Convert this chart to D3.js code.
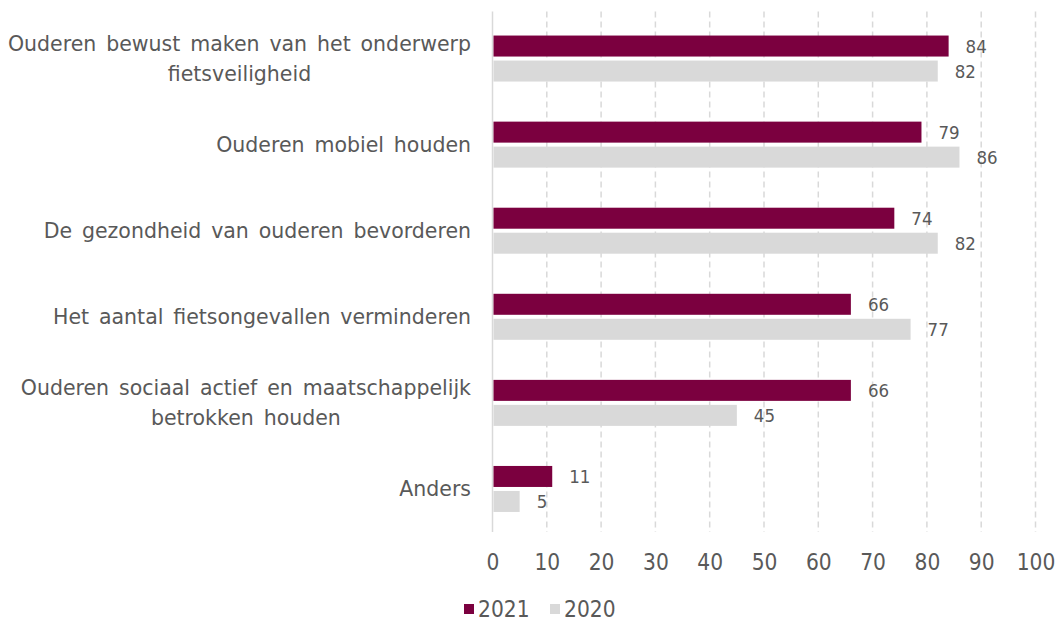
<!DOCTYPE html>
<html>
<head>
<meta charset="utf-8">
<script src="https://cdn.jsdelivr.net/npm/d3@7"></script>
<style>
  body { margin: 0; background: #fff; }
  text { font-family: "DejaVu Sans Condensed", "DejaVu Sans", sans-serif; font-stretch: condensed; fill: #595959; }
  text.cat { font-family: "DejaVu Sans", sans-serif; font-stretch: normal; word-spacing: 3.4px; }
</style>
</head>
<body>
<svg id="chart" width="1057" height="624"></svg>
<script>
// categories (each entry = wrapped label lines)
var categories = [
  ["Ouderen bewust maken van het onderwerp", "fietsveiligheid"],
  ["Ouderen mobiel houden"],
  ["De gezondheid van ouderen bevorderen"],
  ["Het aantal fietsongevallen verminderen"],
  ["Ouderen sociaal actief en maatschappelijk", "betrokken houden"],
  ["Anders"]
];
var values2021 = [84, 79, 74, 66, 66, 11];
var values2020 = [82, 86, 82, 77, 45, 5];
var seriesNames = ["2021", "2020"];
var seriesColors = ["#7b003f", "#d9d9d9"];
var xTicks = [0, 10, 20, 30, 40, 50, 60, 70, 80, 90, 100];

var svg = d3.select("#chart");
var plotLeft = 492.5, plotRight = 1035.5, plotTop = 15.5, plotBottom = 532;

var x = d3.scaleLinear().domain([0, 100]).range([plotLeft, plotRight]);
var y = d3.scaleBand().domain(d3.range(categories.length)).range([plotTop, plotBottom]);
var bw = y.bandwidth();
var barH = 21, gap = 4;

// gridlines
svg.append("g").selectAll("line").data(xTicks.slice(1)).enter().append("line")
  .attr("x1", function(d){ return x(d); }).attr("x2", function(d){ return x(d); })
  .attr("y1", plotTop - 4).attr("y2", plotBottom)
  .attr("stroke", "#d9d9d9").attr("stroke-width", 1.5).attr("stroke-dasharray", "6,4");

// axis line at 0
svg.append("line").attr("x1", x(0)).attr("x2", x(0)).attr("y1", plotTop - 4).attr("y2", plotBottom)
  .attr("stroke", "#d9d9d9").attr("stroke-width", 1.5);

// x axis tick labels
var xAxis = d3.axisBottom(x).tickValues(xTicks).tickSize(0).tickPadding(0);
var gx = svg.append("g").attr("transform", "translate(0," + 554 + ")").call(xAxis);
gx.select(".domain").remove();
gx.attr("font-family", null).attr("font-size", null);
gx.selectAll("text").style("font-size", "22.5px").attr("fill", "#595959");

var groups = svg.append("g").selectAll("g").data(categories).enter().append("g")
  .attr("transform", function(d, i){ return "translate(0," + (y(i) + bw/2) + ")"; });

var series = [values2021, values2020];
series.forEach(function(vals, s){
  var yOff = s === 0 ? -(barH + gap/2) : gap/2;
  groups.append("rect")
    .attr("x", x(0) + 1)
    .attr("y", yOff)
    .attr("width", function(d, i){ return x(vals[i]) - x(0) - 1; })
    .attr("height", barH)
    .attr("fill", seriesColors[s]);
  groups.append("text")
    .attr("x", function(d, i){ return x(vals[i]) + 17; })
    .attr("y", yOff + barH/2)
    .attr("dy", "0.35em")
    .style("font-size", "18.5px")
    .text(function(d, i){ return vals[i]; });
});

// category labels, wrapped lines centered within a right-aligned block
var labelRight = 471, lineH = 30;
groups.each(function(lines){
  var g = d3.select(this);
  var t = g.append("text").attr("class", "cat").style("font-size", "20.5px").attr("text-anchor", "middle");
  var tsp = t.selectAll("tspan").data(lines).enter().append("tspan")
    .attr("y", function(d, k){ return (k - (lines.length - 1)/2) * lineH; })
    .attr("dy", "0.35em")
    .text(function(d){ return d; });
  var maxW = 0;
  tsp.each(function(){ maxW = Math.max(maxW, this.getComputedTextLength()); });
  tsp.attr("x", labelRight - maxW/2);
});

// legend
var legend = svg.append("g").attr("transform", "translate(0,609)");
var legendX = [464, 550];
seriesNames.forEach(function(n, s){
  legend.append("rect").attr("x", legendX[s]).attr("y", -5).attr("width", 10).attr("height", 10).attr("fill", seriesColors[s]);
  legend.append("text").attr("x", legendX[s] + 14).attr("dy", "0.35em").style("font-size", "22.5px").text(n);
});
</script>
</body>
</html>
